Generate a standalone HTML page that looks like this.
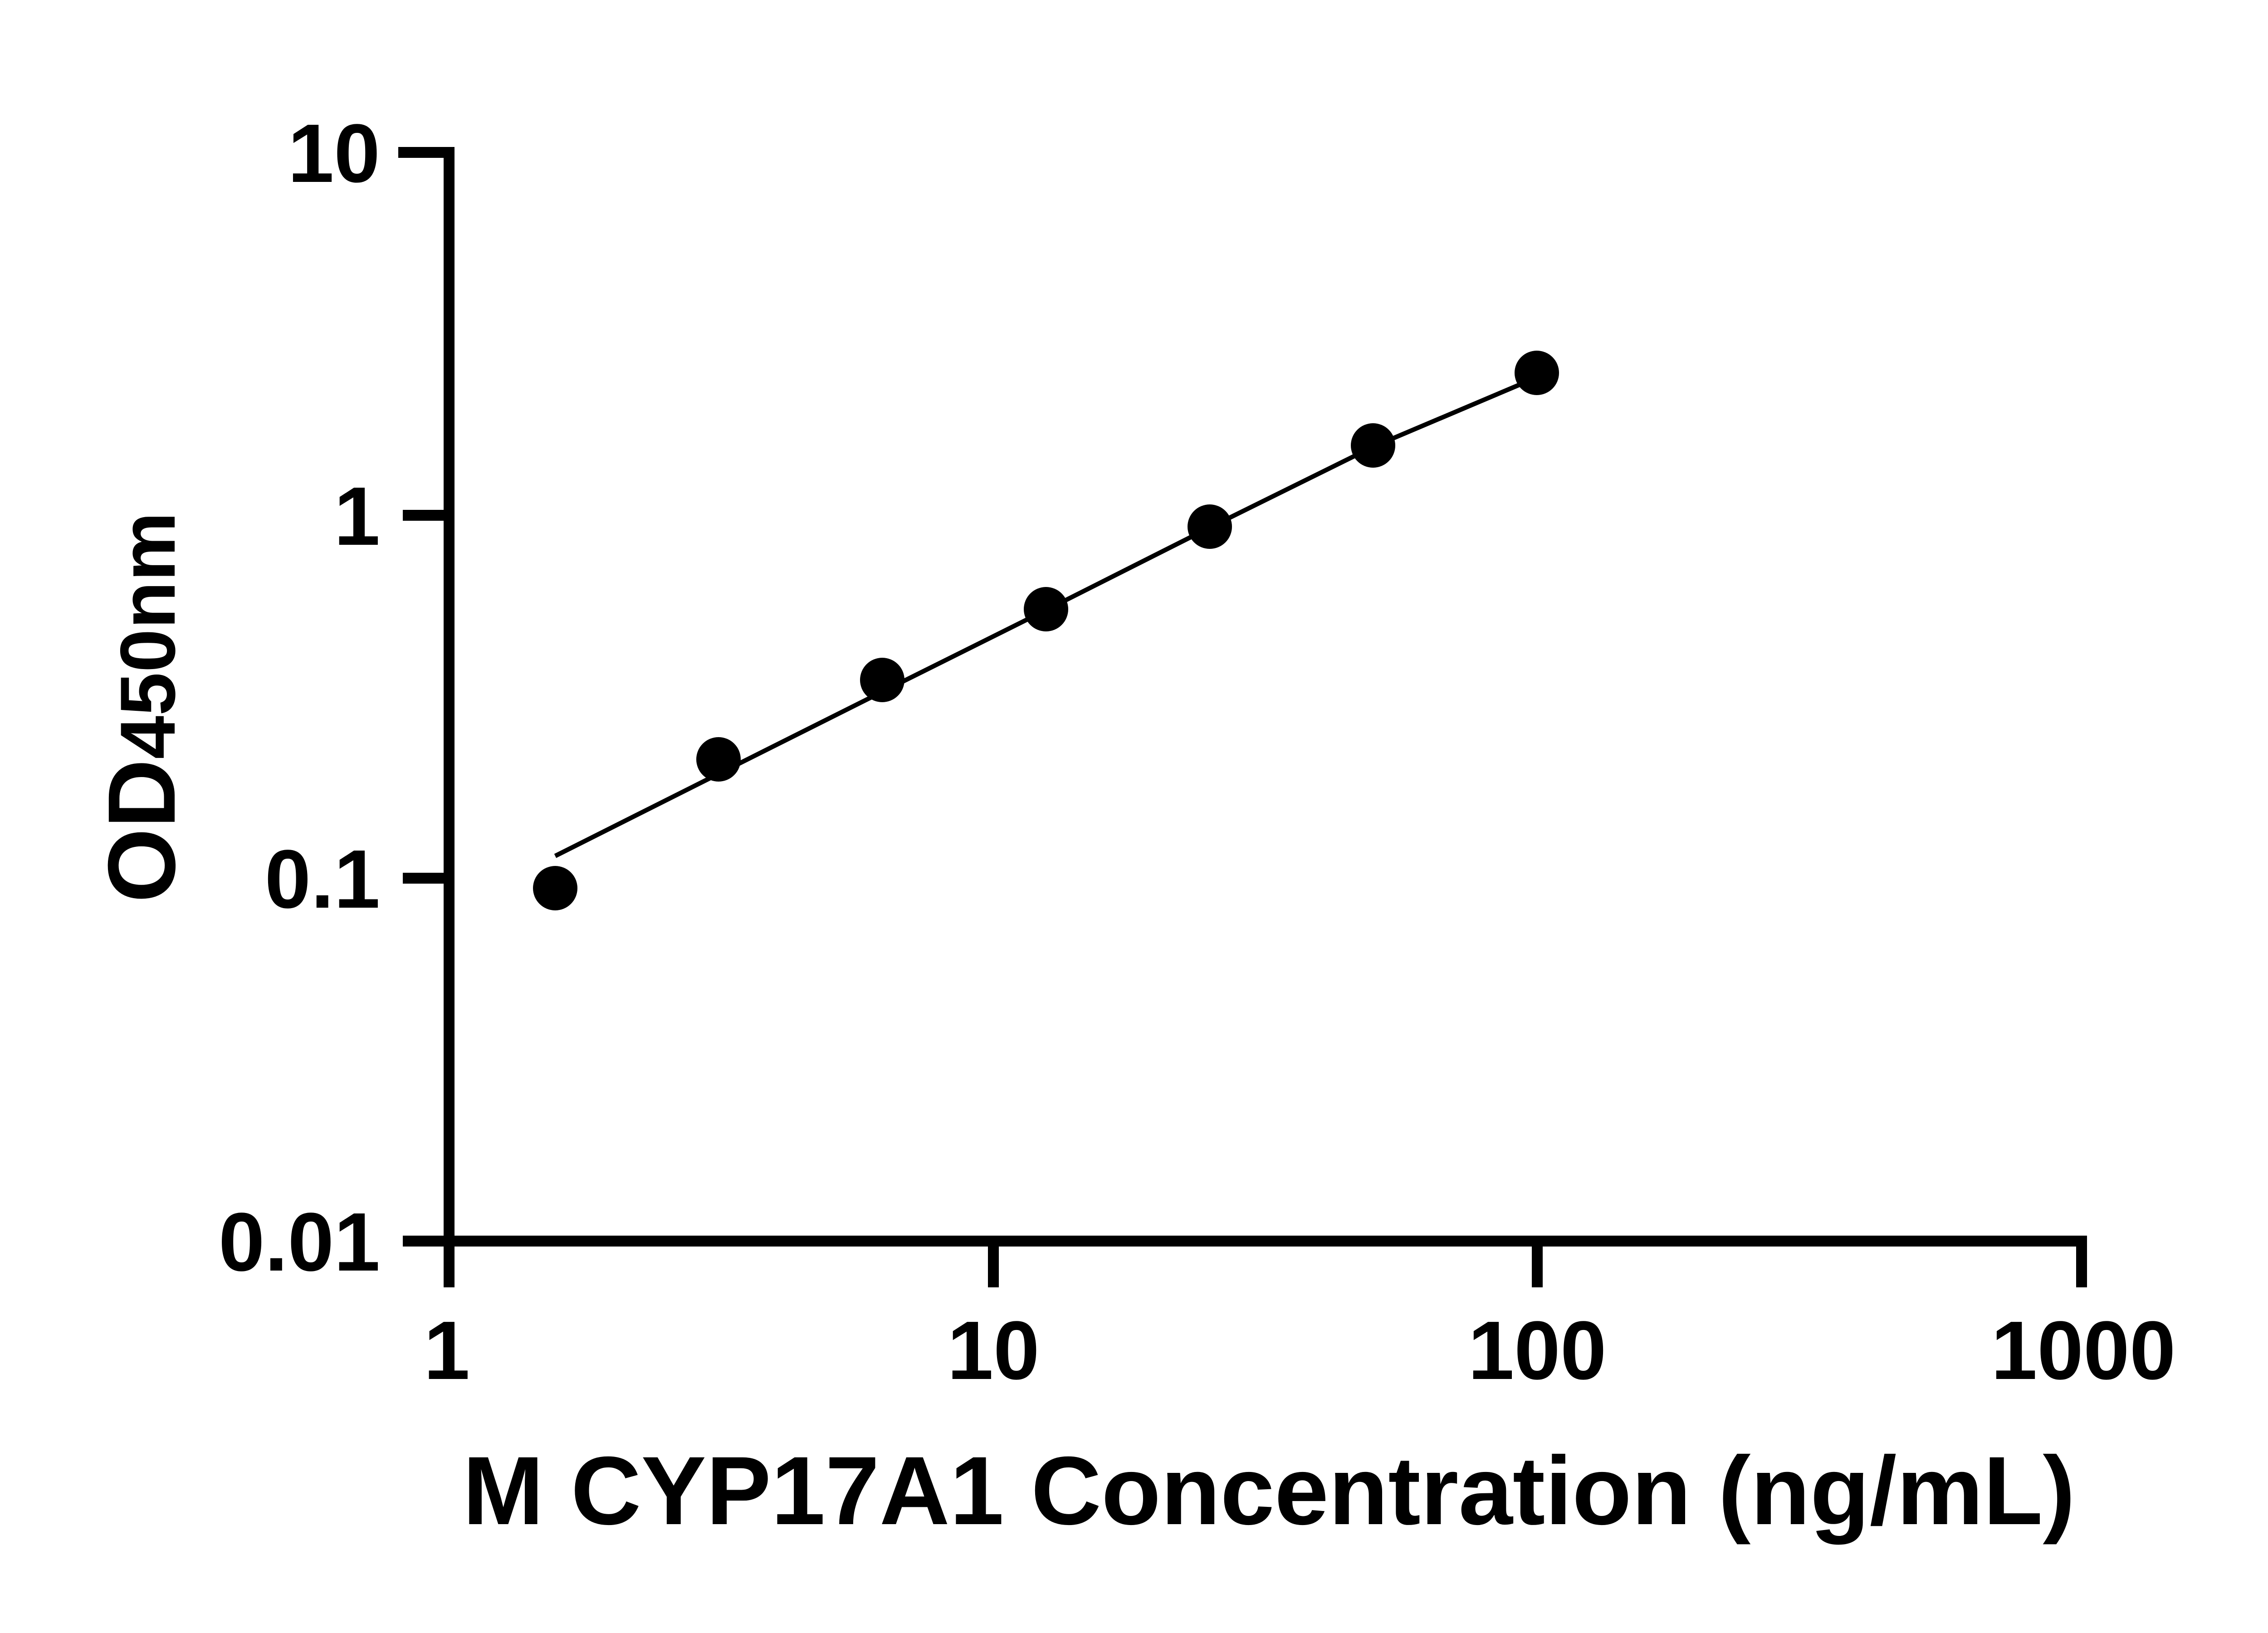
<!DOCTYPE html>
<html><head><style>html,body{margin:0;padding:0;background:#fff}svg{display:block}</style></head>
<body>
<svg width="5142" height="3600" viewBox="0 0 5142 3600" xmlns="http://www.w3.org/2000/svg">
<rect width="5142" height="3600" fill="#fff"/>
<g stroke="#000" stroke-width="24" fill="none" stroke-linecap="butt">
<line x1="990" y1="324" x2="990" y2="2838"/>
<line x1="888" y1="2736" x2="4601" y2="2736"/>
<line x1="878" y1="336" x2="1002" y2="336"/>
<line x1="888" y1="1136" x2="990" y2="1136"/>
<line x1="888" y1="1936" x2="990" y2="1936"/>
<line x1="2190" y1="2736" x2="2190" y2="2838"/>
<line x1="3389" y1="2736" x2="3389" y2="2838"/>
<line x1="4589" y1="2724" x2="4589" y2="2838"/>
</g>
<g font-family="Liberation Sans, Arial, sans-serif" font-weight="bold" font-size="183" fill="#000">
<text x="838" y="401" text-anchor="end">10</text>
<text x="838" y="1201" text-anchor="end">1</text>
<text x="838" y="2001" text-anchor="end">0.1</text>
<text x="838" y="2801" text-anchor="end">0.01</text>
<text x="985" y="3040" text-anchor="middle">1</text>
<text x="2190" y="3040" text-anchor="middle">10</text>
<text x="3389" y="3040" text-anchor="middle">100</text>
<text x="4593" y="3040" text-anchor="middle">1000</text>
</g>
<text x="1020" y="3360" font-family="Liberation Sans, Arial, sans-serif" font-weight="bold" font-size="214" textLength="3555" lengthAdjust="spacingAndGlyphs">M CYP17A1 Concentration (ng/mL)</text>
<text transform="translate(385,1990) rotate(-90)" font-family="Liberation Sans, Arial, sans-serif" font-weight="bold" font-size="211">OD<tspan font-size="172">450nm</tspan></text>
<polyline points="1224,1887 1584,1706 1945,1525 2306,1345 2667,1163 3027,985 3388,832" fill="none" stroke="#000" stroke-width="10"/>
<g fill="#000">
<circle cx="1224" cy="1958" r="49"/>
<circle cx="1584" cy="1674" r="49"/>
<circle cx="1945" cy="1499" r="49"/>
<circle cx="2306" cy="1343" r="49"/>
<circle cx="2667" cy="1161" r="49"/>
<circle cx="3027" cy="982" r="49"/>
<circle cx="3388" cy="822" r="49"/>
</g>
</svg>
</body></html>
